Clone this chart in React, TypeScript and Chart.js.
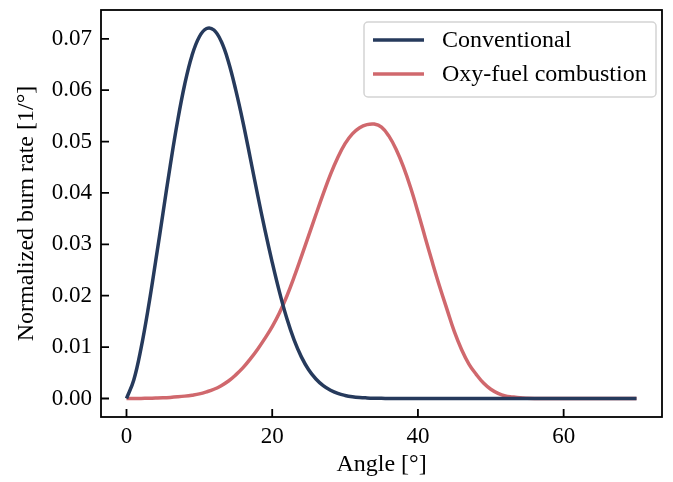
import React, { useEffect, useRef } from "react";
import { Chart, registerables } from "chart.js";

Chart.register(...registerables);

const angles: number[] = Array.from({ length: 71 }, (_, i) => i);

const conventional: number[] = [
  0, 0.0036, 0.0098, 0.0177, 0.0267, 0.0360, 0.0453, 0.0539, 0.0612, 0.0668,
  0.0704, 0.0720, 0.0717, 0.0695, 0.0655, 0.0600, 0.0537, 0.0467, 0.0396, 0.0328,
  0.0265, 0.0207, 0.0156, 0.0114, 0.0081, 0.0056, 0.0038, 0.0025, 0.0016, 0.00098,
  0.00059, 0.00034, 0.00019, 0.00011, 0.00006, 0.00003, 0.000014, 0.000007, 0.000003, 0,
  0, 0, 0, 0, 0, 0, 0, 0, 0, 0,
  0, 0, 0, 0, 0, 0, 0, 0, 0, 0,
  0, 0, 0, 0, 0, 0, 0, 0, 0, 0,
  0,
];

const oxyFuel: number[] = [
  0, 0.00001, 0.00002, 0.00004, 0.00008, 0.00013, 0.00021, 0.00032, 0.00046, 0.00065,
  0.0009, 0.0013, 0.0018, 0.0025, 0.0034, 0.0046, 0.0060, 0.0077, 0.0096, 0.0117,
  0.0140, 0.0167, 0.0199, 0.0236, 0.0276, 0.0317, 0.0358, 0.0398, 0.0436, 0.0469,
  0.0496, 0.0515, 0.0527, 0.0533, 0.0534, 0.0528, 0.0511, 0.0485, 0.0451, 0.0410,
  0.0363, 0.0313, 0.0264, 0.0217, 0.0173, 0.0130, 0.0095, 0.0067, 0.0047, 0.0030,
  0.0018, 0.0010, 0.0005, 0.0003, 0.00014, 0.00006, 0.00002, 0.00001, 0, 0,
  0, 0, 0, 0, 0, 0, 0, 0, 0, 0,
  0,
];

const seriesLabels: string[] = ["Conventional", "Oxy-fuel combustion"];
const seriesColors: string[] = ["#263a5c", "#d0686d"];

const xTicks: number[] = [0, 20, 40, 60];
const yTicks: number[] = [0, 0.01, 0.02, 0.03, 0.04, 0.05, 0.06, 0.07];

const xTitle = "Angle [°]";
const yTitle = "Normalized burn rate [1/°]";

const FONT = "'Liberation Serif', 'Times New Roman', serif";
const FS = 24;
const TFS = 23;

const framePlugin = {
  id: "frameTicks",
  afterDatasetsDraw(chart: any) {
    const { ctx, chartArea, scales } = chart;
    const { left, right, top, bottom } = chartArea;
    ctx.save();
    ctx.strokeStyle = "#000";
    ctx.lineWidth = 1.8;
    const tl = 8;
    ctx.beginPath();
    xTicks.forEach((v) => {
      const px = scales.x.getPixelForValue(v);
      ctx.moveTo(px, bottom);
      ctx.lineTo(px, bottom - tl);
    });
    yTicks.forEach((v) => {
      const py = scales.y.getPixelForValue(v);
      ctx.moveTo(left, py);
      ctx.lineTo(left + tl, py);
    });
    ctx.stroke();
    ctx.strokeRect(left, top, right - left, bottom - top);

    // legend
    const bx = 364, by = 22, bw = 292, bh = 75, r = 4;
    ctx.fillStyle = "rgba(255,255,255,0.8)";
    ctx.strokeStyle = "#d4d4d4";
    ctx.lineWidth = 1.5;
    ctx.beginPath();
    ctx.moveTo(bx + r, by);
    ctx.lineTo(bx + bw - r, by);
    ctx.arcTo(bx + bw, by, bx + bw, by + r, r);
    ctx.lineTo(bx + bw, by + bh - r);
    ctx.arcTo(bx + bw, by + bh, bx + bw - r, by + bh, r);
    ctx.lineTo(bx + r, by + bh);
    ctx.arcTo(bx, by + bh, bx, by + bh - r, r);
    ctx.lineTo(bx, by + r);
    ctx.arcTo(bx, by, bx + r, by, r);
    ctx.closePath();
    ctx.fill();
    ctx.stroke();
    chart.data.datasets.forEach((ds: any, i: number) => {
      const y = 40 + i * 34;
      ctx.strokeStyle = ds.borderColor;
      ctx.lineWidth = 3.5;
      ctx.beginPath();
      ctx.moveTo(373, y);
      ctx.lineTo(424, y);
      ctx.stroke();
      ctx.fillStyle = "#000";
      ctx.font = `${FS}px ${FONT}`;
      ctx.textBaseline = "middle";
      ctx.textAlign = "left";
      ctx.fillText(ds.label, 442, y + 1);
    });
    ctx.restore();
  },
};

export default function App() {
  const ref = useRef<HTMLCanvasElement | null>(null);
  useEffect(() => {
    document.body.style.margin = "0";
    const canvas = ref.current!;
    const chart = new Chart(canvas, {
      type: "line",
      data: {
        labels: angles,
        datasets: [conventional, oxyFuel].map((vals, i) => ({
          label: seriesLabels[i],
          data: vals.map((v, j) => ({ x: angles[j], y: v })),
          borderColor: seriesColors[i],
          backgroundColor: seriesColors[i],
          borderWidth: 3.5,
          pointRadius: 0,
          tension: 0.4,
          fill: false,
        })),
      },
      options: {
        responsive: false,
        animation: false,
        layout: { padding: { top: 10, right: 11, left: 0, bottom: 0 } },
        plugins: { legend: { display: false }, tooltip: { enabled: false } },
        scales: {
          x: {
            type: "linear",
            min: -3.5,
            max: 73.5,
            afterBuildTicks: (s: any) => {
              s.ticks = xTicks.map((v) => ({ value: v }));
            },
            afterFit: (s: any) => {
              s.height = 65;
              s.paddingLeft = 0;
              s.paddingRight = 0;
            },
            grid: { display: false, drawTicks: false },
            border: { display: false },
            ticks: {
              color: "#000",
              font: { family: FONT, size: TFS },
              padding: 6,
              maxRotation: 0,
              callback: (v: any) => String(v),
            },
            title: {
              display: true,
              text: xTitle,
              color: "#000",
              font: { family: FONT, size: FS },
              padding: { top: 0, bottom: 3 },
            },
          },
          y: {
            type: "linear",
            min: -0.0036,
            max: 0.0756,
            afterBuildTicks: (s: any) => {
              s.ticks = yTicks.map((v) => ({ value: v }));
            },
            afterFit: (s: any) => {
              s.width = 101;
              s.paddingTop = 0;
              s.paddingBottom = 0;
            },
            grid: { display: false, drawTicks: false },
            border: { display: false },
            ticks: {
              color: "#000",
              font: { family: FONT, size: TFS },
              padding: 9,
              callback: (v: any) => Number(v).toFixed(2),
            },
            title: {
              display: true,
              text: yTitle,
              color: "#000",
              font: { family: FONT, size: FS },
              padding: { top: 12, bottom: 0 },
            },
          },
        },
      },
      plugins: [framePlugin],
    });
    return () => chart.destroy();
  }, []);
  return (
    <div style={{ width: 673, height: 482 }}>
      <canvas ref={ref} width={673} height={482} style={{ display: "block" }} />
    </div>
  );
}
